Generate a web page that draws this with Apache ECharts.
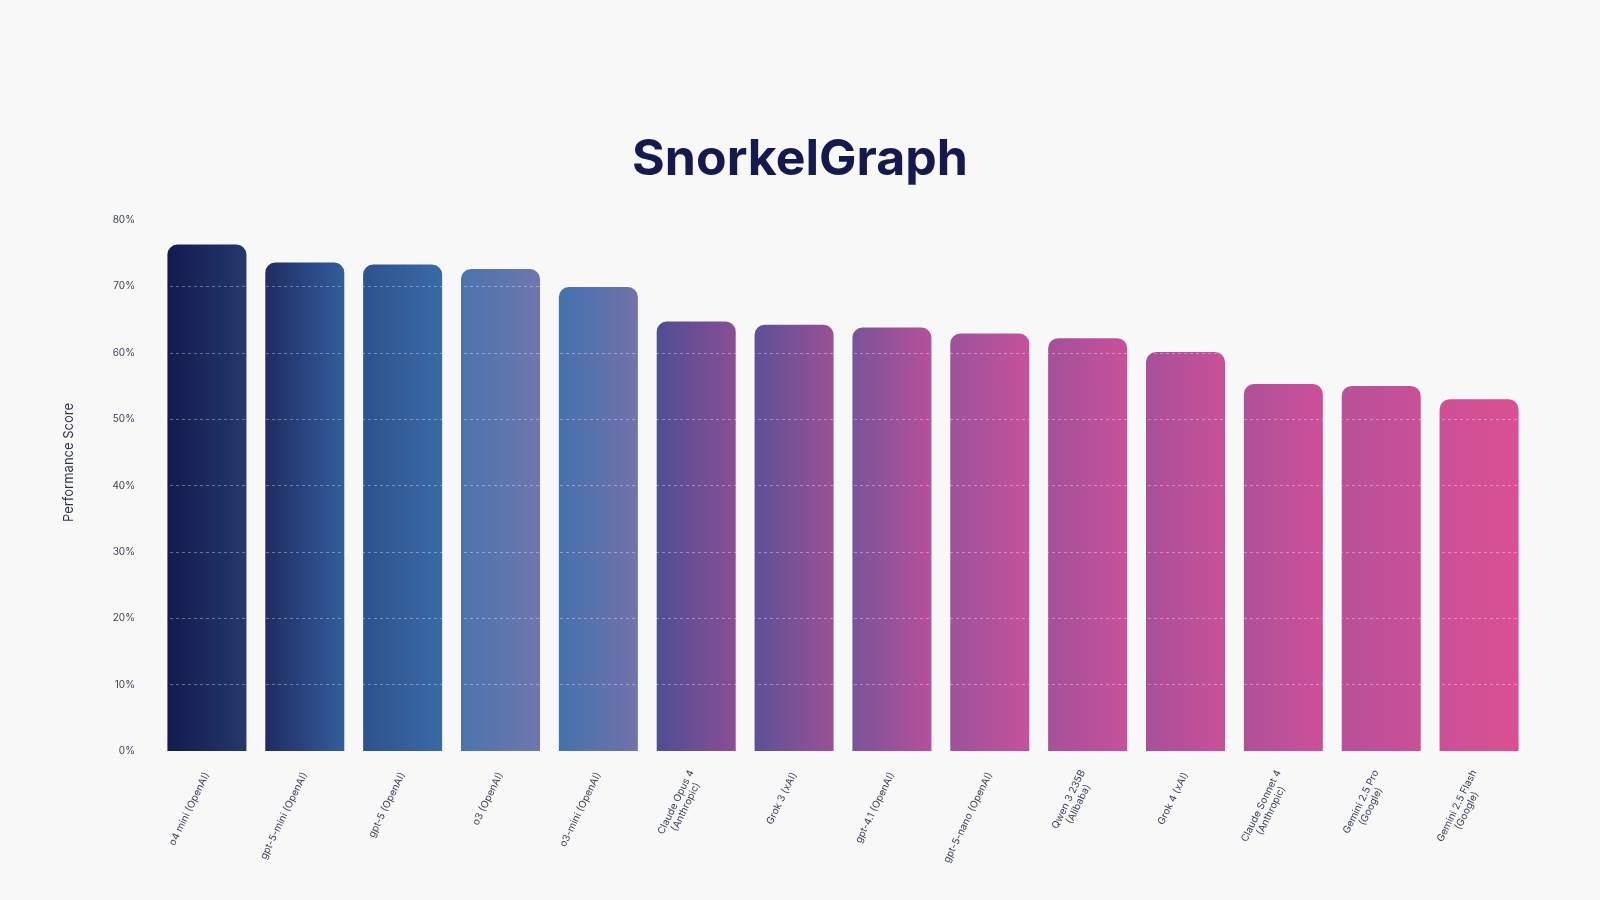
<!DOCTYPE html>
<html>
<head>
    <meta charset="utf-8">
    <title>SnorkelGraph</title>
    <script src="https://cdn.jsdelivr.net/npm/echarts@6.0.0/dist/echarts.min.js"></script>
    <style>
        html, body { margin: 0; padding: 0; background: #f8f8f9; }
        #chart { width: 1600px; height: 900px; }
    </style>
</head>
<body>
    <div id="chart"></div>

    <script>
        // 模型名称（两行的用 \n 分隔）
        const models = [
            'o4 mini (OpenAI)',
            'gpt-5-mini (OpenAI)',
            'gpt-5 (OpenAI)',
            'o3 (OpenAI)',
            'o3-mini (OpenAI)',
            'Claude Opus 4\n(Anthropic)',
            'Grok 3 (xAI)',
            'gpt-4.1 (OpenAI)',
            'gpt-5-nano (OpenAI)',
            'Qwen 3 235B\n(Alibaba)',
            'Grok 4 (xAI)',
            'Claude Sonnet 4\n(Anthropic)',
            'Gemini 2.5 Pro\n(Google)',
            'Gemini 2.5 Flash\n(Google)'
        ];

        // 得分 (%)
        const scores = [76.3, 73.6, 73.3, 72.6, 69.9, 64.7, 64.2, 63.8, 62.9, 62.2, 60.1, 55.3, 55.0, 53.0];

        // y 轴刻度
        const yTicks = [0, 10, 20, 30, 40, 50, 60, 70, 80];

        // 每根柱子左右渐变色
        const leftColors = ['#131a4e', '#1f2c62', '#2d528d', '#4a74ae', '#4472ac', '#4f4e94', '#5c5096',
                            '#7a5498', '#9c529a', '#a4509a', '#a8509a', '#b0509a', '#b8509a', '#cc5096'];
        const rightColors = ['#25386c', '#335c9c', '#3a6aa6', '#7076ad', '#7272aa', '#8a4e94', '#9a5296',
                             '#b6509a', '#c4529a', '#c8509a', '#c85098', '#cc5098', '#c85096', '#da5094'];

        const chart = echarts.init(document.getElementById('chart'));

        const barData = scores.map((v, i) => ({
            value: v,
            itemStyle: {
                color: new echarts.graphic.LinearGradient(0, 0, 1, 0, [
                    { offset: 0, color: leftColors[i] },
                    { offset: 1, color: rightColors[i] }
                ])
            }
        }));

        const option = {
            backgroundColor: '#f8f8f9',
            title: {
                text: 'SnorkelGraph',
                left: 'center',
                top: 130,
                textStyle: {
                    fontFamily: 'Inter',
                    fontSize: 50,
                    fontWeight: 'bold',
                    color: '#151a4e'
                }
            },
            grid: { left: 158, right: 72, top: 220, bottom: 149 },
            xAxis: {
                type: 'category',
                data: models,
                axisLine: { show: false },
                axisTick: { show: false },
                axisLabel: {
                    interval: 0,
                    rotate: 64,
                    margin: 22,
                    fontFamily: 'Inter',
                    fontSize: 10,
                    color: '#3a3f5c',
                    formatter: v => v.split('\n').map(s => '{a|' + s + '}').join('\n'),
                    rich: {
                        a: { align: 'center', fontFamily: 'Inter', fontSize: 10, color: '#3a3f5c', lineHeight: 11 }
                    }
                }
            },
            yAxis: {
                type: 'value',
                min: yTicks[0],
                max: yTicks[yTicks.length - 1],
                interval: 10,
                z: 5,
                name: 'Performance Score',
                nameLocation: 'middle',
                nameGap: 82,
                nameRotate: 90,
                nameTextStyle: { fontFamily: 'Inter', fontSize: 13, color: '#2c3050', padding: [0, 0, 0, 46] },
                axisLine: { show: false },
                axisTick: { show: false },
                axisLabel: {
                    margin: 23,
                    fontFamily: 'Inter',
                    fontSize: 10,
                    color: '#3a3f5c',
                    formatter: '{value}%'
                },
                splitLine: {
                    lineStyle: { color: 'rgba(255,255,255,0.35)', type: [3, 3], width: 1 }
                }
            },
            series: [{
                type: 'bar',
                data: barData,
                barWidth: 79,
                itemStyle: { borderRadius: [10, 10, 0, 0] }
            }]
        };

        chart.setOption(option);
    </script>
</body>
</html>
